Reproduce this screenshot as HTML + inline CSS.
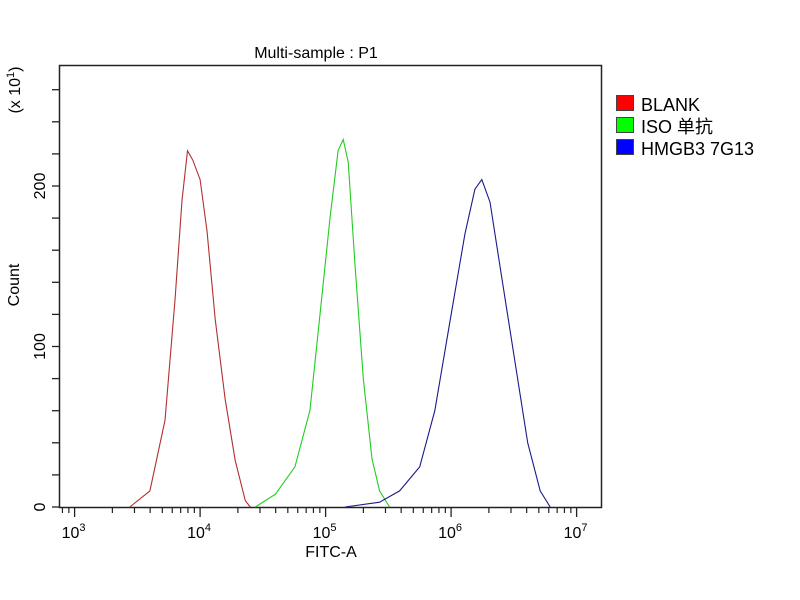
<!DOCTYPE html>
<html><head><meta charset="utf-8"><style>
body{margin:0;background:#fff;}
svg{display:block;font-family:"Liberation Sans","Noto Sans CJK SC",sans-serif;}
</style></head><body>
<svg id="chart" width="800" height="600">
<text x="316" y="58" font-size="16" text-anchor="middle">Multi-sample : P1</text>
<rect x="59.5" y="65.5" width="542" height="442" fill="none" stroke="#222" stroke-width="1.5"/>
<g id="axes"></g>
<g id="series"></g>
<text x="331" y="557" font-size="16" text-anchor="middle">FITC-A</text>
<text transform="translate(19,285) rotate(-90)" font-size="16" text-anchor="middle">Count</text>
<text transform="translate(20,90) rotate(-90)" font-size="16" text-anchor="middle">(x 10<tspan dy="-6" font-size="11">1</tspan><tspan dy="6">)</tspan></text>
<g>
<rect x="616.5" y="95.5" width="17" height="15" fill="#ff0000" stroke="#444"/>
<text x="641" y="111" font-size="18">BLANK</text>
<rect x="616.5" y="117.5" width="17" height="15" fill="#00ff00" stroke="#444"/>
<text x="641" y="133" font-size="18">ISO 单抗</text>
<rect x="616.5" y="139.5" width="17" height="15" fill="#0000ff" stroke="#444"/>
<text x="641" y="155" font-size="18">HMGB3 7G13</text>
</g>
</svg>
<script>
const xDecades=[3,4,5,6,7];
const yTickValues=[0,20,40,60,80,100,120,140,160,180,200,220,240,260];
const yTickLabels=[0,100,200];
const blankLog=[3.44,3.60,3.72,3.80,3.856,3.90,3.943,4.0,4.055,4.12,4.20,4.28,4.36,4.40];
const blankCount=[0,10,54,129,191,222,216,204,172,117,67,29,4,0];
const isoLog=[4.44,4.60,4.755,4.875,4.955,5.035,5.10,5.14,5.18,5.235,5.30,5.37,5.43,5.51];
const isoCount=[0,8,25,60,120,180,222,229,215,150,80,30,10,0];
const hmgbLog=[5.155,5.43,5.59,5.75,5.87,5.99,6.11,6.19,6.245,6.31,6.39,6.51,6.61,6.71,6.79];
const hmgbCount=[0,3,10,25,60,115,170,198,204,190,150,90,40,10,0];

const NS="http://www.w3.org/2000/svg";
function xs(l){return 74.6+125.5*(l-3);}
function ys(c){return 507-1.605*c;}
const axes=document.getElementById('axes'),series=document.getElementById('series');
function mk(tag,attrs,parent){const e=document.createElementNS(NS,tag);for(const k in attrs)e.setAttribute(k,attrs[k]);parent.appendChild(e);return e;}
yTickValues.forEach(v=>{
  const t=mk('line',{x1:52,x2:59,y1:ys(v),y2:ys(v),stroke:'#222','stroke-width':1.3},axes);
  
  
});
yTickLabels.forEach(v=>{
  const t=mk('text',{transform:`translate(45,${ys(v)}) rotate(-90)`,'font-size':16,'text-anchor':'middle'},axes);
  t.textContent=v;
  
  
});
xDecades.forEach((d,i)=>{
  const x=xs(d);
  const t=mk('line',{x1:x,x2:x,y1:507,y2:517,stroke:'#222','stroke-width':1.3},axes);
  
  
  const lb=mk('text',{x:x-1,y:538,'font-size':16,'text-anchor':'middle'},axes);
  lb.textContent='10';
  const sp=mk('tspan',{dy:-7,'font-size':11},lb);sp.textContent=d;
  
  
  if(i<xDecades.length-1){
    for(let m=2;m<=9;m++){
      const xm=xs(d+Math.log10(m));
      const mt=mk('line',{x1:xm,x2:xm,y1:507,y2:513,stroke:'#222','stroke-width':1.2},axes);
      
      
    }
  }
});
[8,9].forEach(m=>{const xm=xs(2+Math.log10(m));if(xm>60){const mt=mk('line',{x1:xm,x2:xm,y1:507,y2:513,stroke:'#222','stroke-width':1.2},axes);

}});
function draw(lg,ct,color,name){
  const pts=lg.map((l,i)=>xs(l).toFixed(1)+','+ys(ct[i]).toFixed(1)).join(' ');
  const p=mk('polyline',{points:pts,fill:'none',stroke:color,'stroke-width':1.1},series);
  
  
}
draw(blankLog,blankCount,'#b03030','blank-histogram');
draw(isoLog,isoCount,'#22cc22','iso-histogram');
draw(hmgbLog,hmgbCount,'#1a1a8a','hmgb3-histogram');
</script>
</body></html>
